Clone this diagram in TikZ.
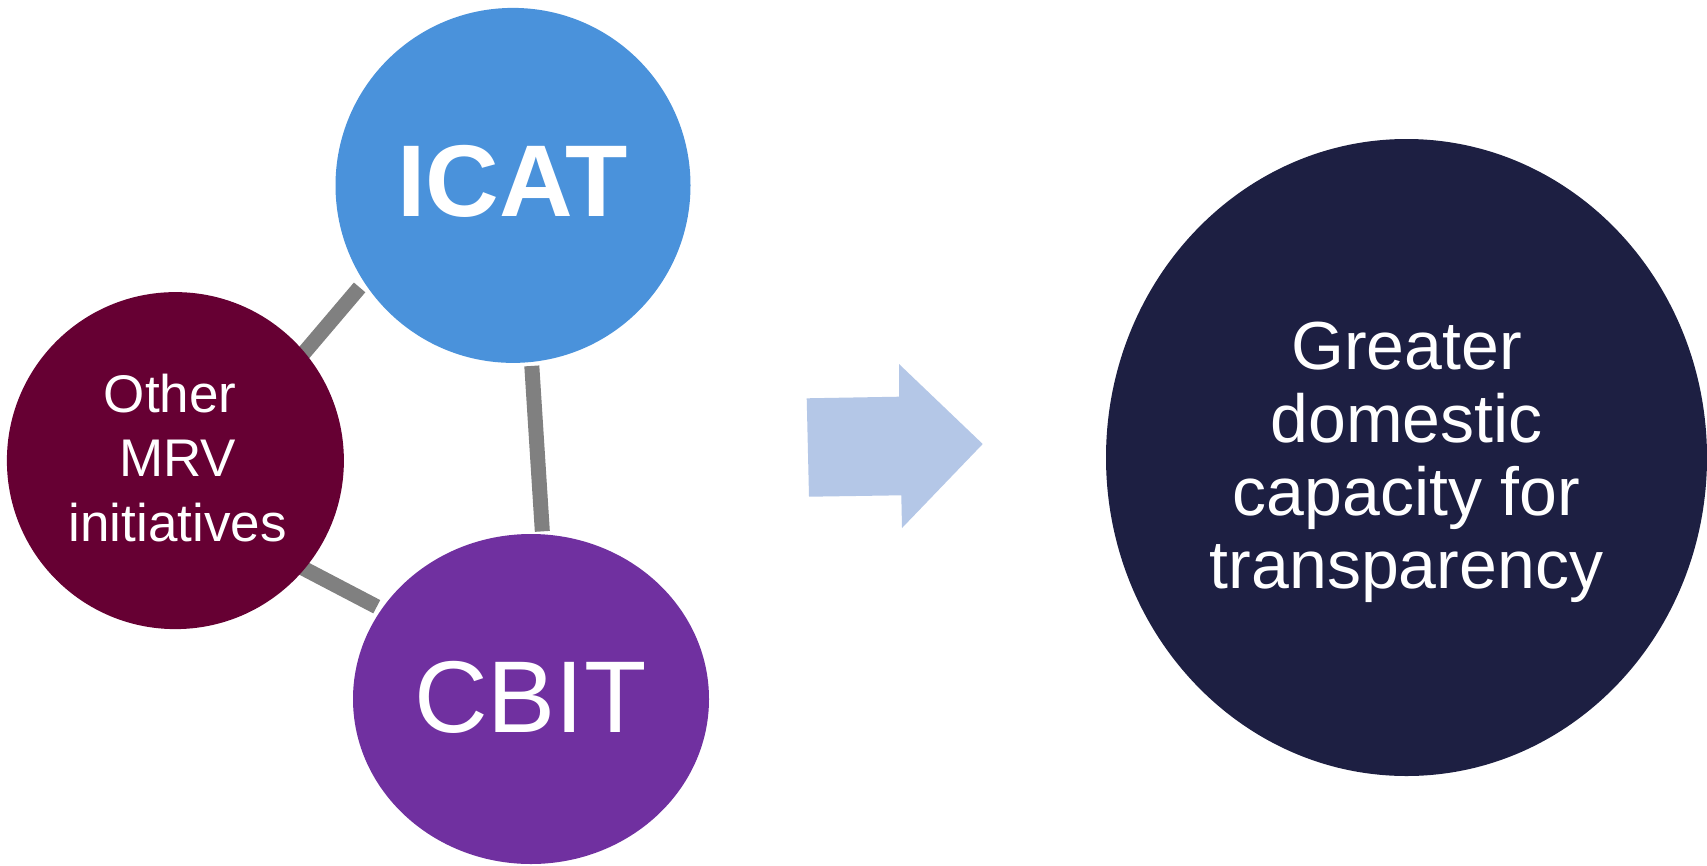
\documentclass[tikz,border=0pt]{standalone}
\usepackage{fontspec}
\setmainfont{Liberation Sans}
\usetikzlibrary{shapes.geometric,backgrounds}
\definecolor{icatblue}{RGB}{74,146,219}
\definecolor{mrvred}{RGB}{102,0,51}
\definecolor{cbitpurple}{RGB}{112,48,160}
\definecolor{goalnavy}{RGB}{29,31,66}
\definecolor{arrowblue}{RGB}{180,199,231}
\definecolor{linegray}{RGB}{128,128,128}
\begin{document}
\begin{tikzpicture}[x=1pt,y=-1pt,
  bubble/.style={circle,inner sep=0pt,outer sep=0pt},
  oval/.style={ellipse,inner sep=0pt,outer sep=0pt},
  conn/.style={draw=linegray,line width=15pt},
  btext/.style={text=white,inner sep=0pt,outer sep=0pt}]
\useasboundingbox (0,0) rectangle (1707,865);
% circles
\node[bubble,fill=icatblue,minimum size=355pt] (icat) at (513,185.4) {};
\node[bubble,fill=mrvred,minimum size=337pt] (mrv) at (175.4,460.6) {};
\node[oval,fill=cbitpurple,minimum width=356pt,minimum height=330pt] (cbit) at (531,699) {};
\node[oval,fill=goalnavy,minimum width=601pt,minimum height=637pt] (goal) at (1406.5,457.5) {};
% block arrow
\fill[arrowblue] (806.7,398.3) -- (899,396.7) -- (899,364) -- (982.7,444) -- (902,528) -- (901.3,495.3) -- (809,496.7) -- cycle;
% texts
\node[btext,anchor=base,font=\fontsize{102}{102}\selectfont\bfseries] (icatt) at (512.5,216.8) {ICAT};
\node[btext,anchor=base,font=\fontsize{102}{102}\selectfont] (cbitt) at (530.3,732.6) {CBIT};
\node[btext,anchor=north,align=center,font=\fontsize{53}{64.5}\selectfont] (mrvt) at (177.6,374) {Other\hspace*{.28em}\\MRV\hspace*{.28em}\\initiatives};
\node[btext,anchor=north,align=center,font=\fontsize{68}{73}\selectfont] (goalt) at (1406.5,322.2) {Greater\\domestic\\capacity for\\transparency};
% connectors behind the circles
\begin{pgfonlayer}{background}
\fill[white] (0,0) rectangle (1707,865);
\draw[conn,shorten <=-15pt,shorten >=7pt] (mrv.40) -- (icat.213);
\draw[conn,shorten <=4pt,shorten >=3pt] (icat.-84) -- (cbit.86);
\draw[conn,shorten <=-15pt,shorten >=5.5pt] (mrv.-40) -- (cbit.149);
\end{pgfonlayer}
\end{tikzpicture}
\end{document}
